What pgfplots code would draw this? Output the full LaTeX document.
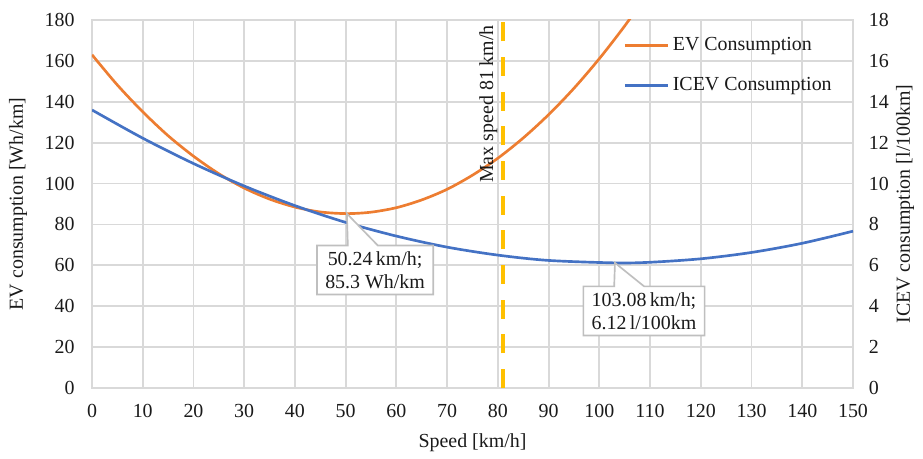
\documentclass[border=0pt]{standalone}
\usepackage{fontspec}
\setmainfont{Liberation Serif}
\usepackage{pgfplots}
\pgfplotsset{compat=1.18}
\usetikzlibrary{shapes.callouts}
\definecolor{evorange}{HTML}{ED7D31}
\definecolor{iceblue}{HTML}{4472C4}
\definecolor{gold}{HTML}{FFC000}
\definecolor{gridgray}{HTML}{D9D9D9}
\definecolor{boxgray}{HTML}{BFBFBF}
\definecolor{txt}{HTML}{1A1A1A}
\begin{document}
\begin{tikzpicture}[font=\fontsize{12}{14}\selectfont, text=txt]
\useasboundingbox (-55.2bp,-42bp) rectangle (498.6bp,232.8bp);
\pgfplotsset{
  base/.style={
    scale only axis, width=456.6bp, height=220.8bp,
    xmin=0, xmax=150,
    major tick length=0pt,
    /pgf/number format/assume math mode=true,
    tick label style={font=\fontsize{12}{14}\selectfont, text=txt},
    label style={font=\fontsize{12}{14}\selectfont, text=txt},
  }
}
\begin{axis}[base,
  ymin=0, ymax=180,
  xtick={0,10,...,150}, ytick={0,20,...,180},
  xtick pos=bottom, ytick pos=left,
  grid=major, grid style={draw=gridgray, line width=1.1bp},
  axis line style={draw=gridgray, line width=1.1bp},
  yticklabel style={xshift=-7bp},
  xticklabel style={yshift=-6bp},
  xlabel={Speed [km/h]},
  ylabel={EV consumption [Wh/km]},
  xlabel style={at={(axis description cs:0.5,-0.148)}, anchor=center},
  ylabel style={at={(axis description cs:-0.0972,0.5)}, anchor=center},
]
\addplot[gold, line width=2.8bp, dash pattern=on 11.4bp off 9.4bp] coordinates {(81,0) (81,180)};
\addplot[evorange, line width=1.6bp, smooth] coordinates {
(0,163.0) (5,148.2) (10,135.1) (15,123.4) (20,113.4) (25,104.8) (30,97.8)
(35,92.4) (40,88.5) (45,86.1) (50.24,85.3) (55,86.0) (60,88.2) (65,92.0)
(70,97.2) (75,104.1) (80,112.4) (85,122.3) (90,133.7) (95,146.6)
(100,161.1) (105,177.1) (110,194.6)};
\node[rotate=90, anchor=south east, inner sep=1bp] at (axis cs:80.3,178.5) {Max speed 81 km/h};
\end{axis}
\begin{axis}[base,
  ymin=0, ymax=18,
  ytick={0,2,...,18},
  axis x line=none,
  axis y line*=right,
  axis line style={draw=none},
  yticklabel style={xshift=6bp},
  ylabel={ICEV consumption [l/100km]},
  ylabel style={at={(axis description cs:1.0683,0.5)}, anchor=center},
  legend style={at={(axis description cs:0.698,0.962)}, anchor=north west,
    draw=none, fill=none, font=\fontsize{12}{14}\selectfont, row sep=10.5bp,
    inner sep=0pt},
  legend cell align=left,
  legend image code/.code={\draw[#1, line width=1.6bp] (0,0) -- (26bp,0);},
]
\addlegendimage{evorange}
\addlegendentry{EV Consumption}
\addplot[iceblue, line width=1.6bp, smooth] coordinates {
(0,13.60) (10,12.22) (20,10.98) (30,9.88) (40,8.92) (50,8.10) (60,7.43)
(70,6.89) (80,6.50) (90,6.24) (103.08,6.12) (110,6.15) (120,6.32)
(130,6.63) (140,7.08) (150,7.67)};
\addlegendentry{ICEV Consumption}
\node[rectangle callout, draw=boxgray, fill=white, line width=1bp, align=center,
  inner xsep=5bp, inner ysep=3.5bp, callout pointer width=18bp,
  callout absolute pointer={(axis cs:50.24,8.53)}]
  at (axis cs:55.8,5.77) {50.24\,km/h;\\85.3 Wh/km};
\node[rectangle callout, draw=boxgray, fill=white, line width=1bp, align=center,
  inner xsep=5bp, inner ysep=3.5bp, callout pointer width=18bp,
  callout absolute pointer={(axis cs:103.08,6.12)}]
  at (axis cs:108.8,3.77) {103.08\,km/h;\\6.12\,l/100km};
\end{axis}
\end{tikzpicture}
\end{document}
